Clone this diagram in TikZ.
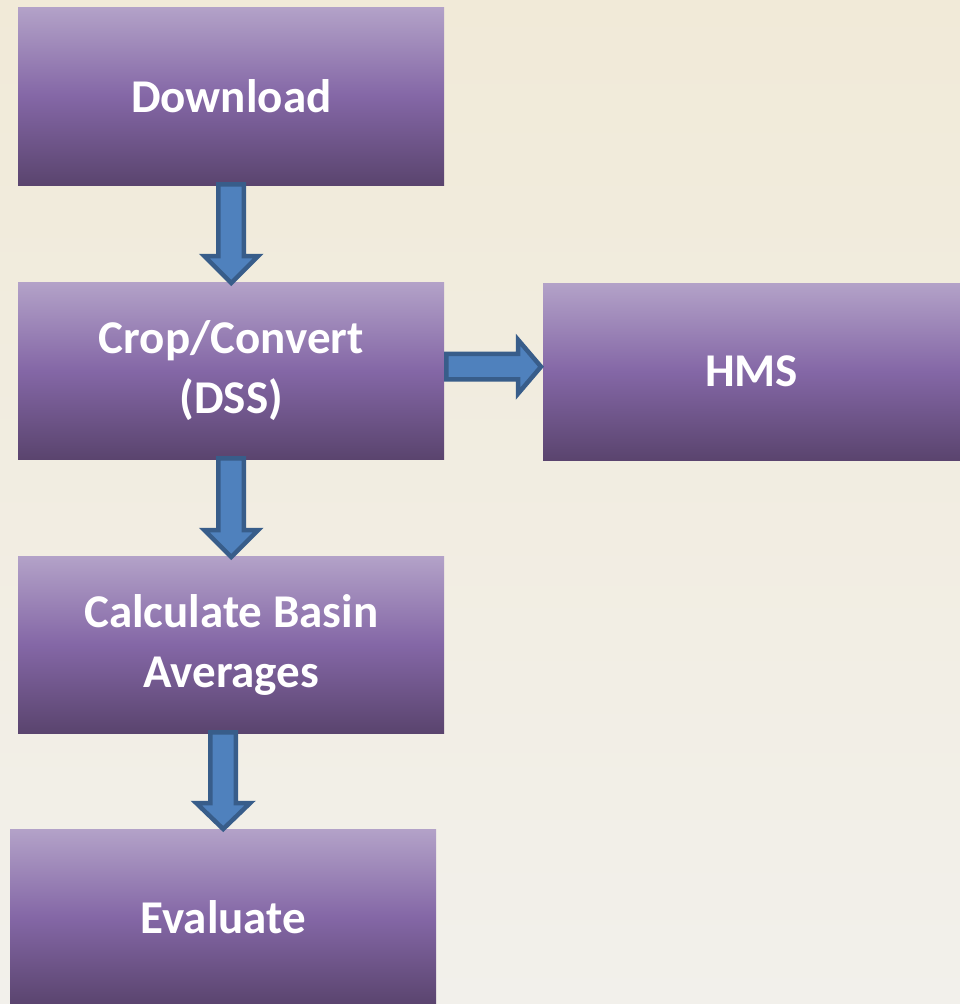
\documentclass[tikz,border=0pt]{standalone}
\usepackage{fontspec}
\setmainfont{Carlito}
\usetikzlibrary{calc}
\definecolor{bgtop}{HTML}{F1EAD8}
\definecolor{bgbot}{HTML}{F2F0EB}
\definecolor{boxtop}{HTML}{B3A2C8}
\definecolor{boxmid}{HTML}{8467A6}
\definecolor{boxbot}{HTML}{5A446E}
\definecolor{arrfill}{HTML}{4F81BD}
\definecolor{arrline}{HTML}{385D8A}
\tikzset{
  stagebox/.style={rectangle, inner sep=0pt, top color=boxtop, bottom color=boxbot, middle color=boxmid,
    text=white, font=\bfseries\fontsize{47}{60}\selectfont, align=center, anchor=north west},
  blockarrow/.style={fill=arrfill, draw=arrline, line width=4.5pt, miter limit=10}
}
\begin{document}
\begin{tikzpicture}[x=1pt,y=-1pt]
\useasboundingbox (0,0) rectangle (960,1004);
\fill[top color=bgtop, bottom color=bgbot] (0,0) rectangle (960,1004);
% boxes
\node[stagebox, minimum width=426pt, minimum height=178pt] (dl) at (18,7) {Download};
\node[stagebox, minimum width=426pt, minimum height=177pt] (cc) at (18,282) {\raisebox{-8pt}{}Crop/Convert\\(DSS)};
\node[stagebox, minimum width=417pt, minimum height=177pt] (hms) at (543,283) {\raisebox{-1pt}{HMS}};
\node[stagebox, minimum width=426pt, minimum height=177pt] (cb) at (18,556) {\raisebox{-8pt}{}Calculate Basin\\Averages};
\node[stagebox, minimum width=426pt, minimum height=176pt] (ev) at (10,829) {Evaluate};
% arrows
\draw[blockarrow] let \p1=(dl.south), \p2=(cc.north) in
  (\x1-12.75pt,\y1+1pt) -- (\x1-12.75pt,\y2+26pt) -- (\x1-27pt,\y2+26pt) -- (\x1,\y2-1pt)
  -- (\x1+27pt,\y2+26pt) -- (\x1+12.75pt,\y2+26pt) -- (\x1+12.75pt,\y1+1pt) -- cycle;
\draw[blockarrow] let \p1=(cc.south), \p2=(cb.north) in
  (\x1-12.75pt,\y1+1pt) -- (\x1-12.75pt,\y2+26pt) -- (\x1-27pt,\y2+26pt) -- (\x1,\y2-1pt)
  -- (\x1+27pt,\y2+26pt) -- (\x1+12.75pt,\y2+26pt) -- (\x1+12.75pt,\y1+1pt) -- cycle;
\draw[blockarrow] let \p1=(cb.south), \p2=(ev.north) in
  (\x2-12.75pt,\y1+1pt) -- (\x2-12.75pt,\y2+26pt) -- (\x2-27pt,\y2+26pt) -- (\x2,\y2)
  -- (\x2+27pt,\y2+26pt) -- (\x2+12.75pt,\y2+26pt) -- (\x2+12.75pt,\y1+1pt) -- cycle;
\draw[blockarrow] let \p1=(cc.east), \p2=(hms.west) in
  (\x1+2pt,\y1+4pt-12.75pt) -- (\x2-25pt,\y1+4pt-12.75pt) -- (\x2-25pt,\y1+4pt-27pt) -- (\x2-2pt,\y1+4pt)
  -- (\x2-25pt,\y1+4pt+27pt) -- (\x2-25pt,\y1+4pt+12.75pt) -- (\x1+2pt,\y1+4pt+12.75pt) -- cycle;
\end{tikzpicture}
\end{document}
